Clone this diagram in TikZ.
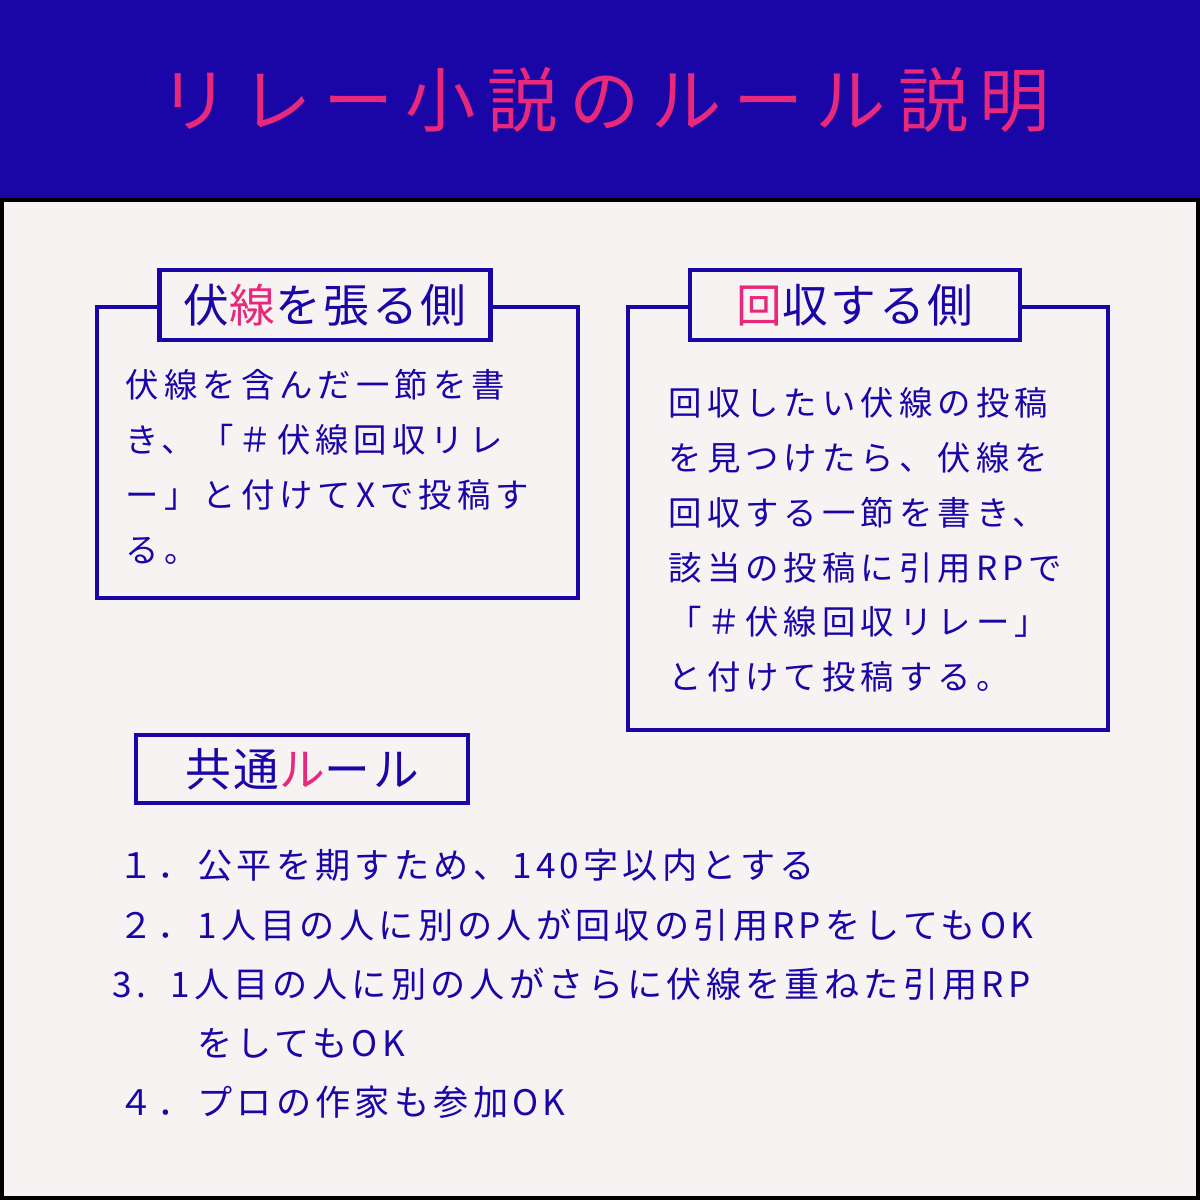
\documentclass[tikz,border=0pt]{standalone}
\usepackage{fontspec}
\setmainfont{Noto Sans CJK JP}
\usepackage{xcolor}
\usepackage{tikz}
\usetikzlibrary{positioning}
\definecolor{navy}{RGB}{26,6,166}
\definecolor{rose}{RGB}{232,40,122}
\definecolor{paper}{RGB}{247,243,243}
\newcommand{\hl}[1]{\textcolor{rose}{#1}}
\tikzset{
  frame/.style={draw=navy,line width=1.3pt,fill=paper},
  tab/.style={draw=navy,line width=1.3pt,fill=paper,minimum height=0.7cm,font=\fontsize{13}{13}\selectfont\addfontfeature{LetterSpace=6},text=navy},
  body/.style={anchor=west,text=navy,font=\fontsize{9.5}{15.6}\selectfont\addfontfeature{LetterSpace=15},align=left,inner sep=0pt}
}
\begin{document}
\begin{tikzpicture}[x=0.01cm,y=-0.01cm]
    % background
    \fill[paper] (0,0) rectangle (1200,1200);
    \fill[navy] (0,0) rectangle (1200,200);
    \draw[black,line width=1.2pt] (2,200) -- (1198,200) -- (1198,1198) -- (2,1198) -- cycle;
    \node[text=rose,font=\fontsize{20}{20}\selectfont] (title) at (605,100) {リ\,レ\,ー\,小\,説\,の\,ル\,ー\,ル\,説\,明};

    % Fukusen side
    \draw[frame] (97,307) rectangle (578,598);
    \node[tab,minimum width=3.31cm] (tabA) at (325,305) {伏\hl{線}を張る側};
    \node[body] (textA) at (125,467) {伏線を含んだ一節を書\\き、「＃伏線回収リレ\\ー」と付けてXで投稿す\\る。};

    % Kaishu side
    \draw[frame] (628,307) rectangle (1108,730);
    \node[tab,minimum width=3.3cm] (tabB) at (855,305) {\hl{回}収する側};
    \node[body] (textB) at (668,540) {回収したい伏線の投稿\\を見つけたら、伏線を\\回収する一節を書き、\\該当の投稿に引用RPで\\「＃伏線回収リレー」\\と付けて投稿する。};

    % Common rules
    \node[tab,minimum width=3.32cm,minimum height=0.68cm] (tabC) at (302,769) {共通\hl{ル}ール};
    \node[body,font=\fontsize{10}{16.8}\selectfont\addfontfeature{LetterSpace=12}] (rules) at (112,984) {\,１．公平を期すため、140字以内とする\\\,２．1人目の人に別の人が回収の引用RPをしてもOK\\3.\ \ 1人目の人に別の人がさらに伏線を重ねた引用RP\\\hspace{2.4em}をしてもOK\\\,４．プロの作家も参加OK};
\end{tikzpicture}
\end{document}
